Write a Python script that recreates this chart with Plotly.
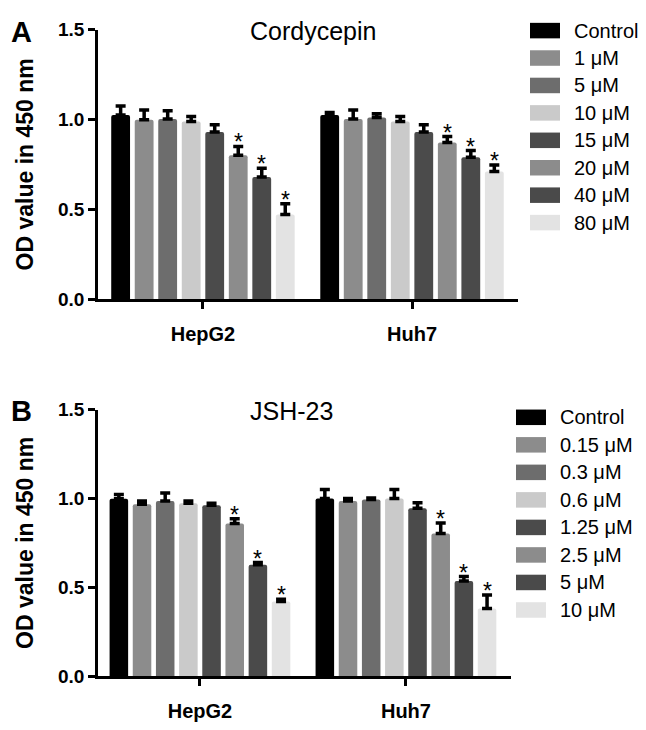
import plotly.graph_objects as go

# The page body has an 8px margin; the figure is sized/shifted to compensate.
OFF = 8
W, H = 646 - 2 * OFF, 730 - 2 * OFF

cells = ["HepG2", "Huh7"]

# Panel A: Cordycepin
doses_A = ["Control", "1 μM", "5 μM", "10 μM", "15 μM", "20 μM", "40 μM", "80 μM"]
hepg2_A = [1.025, 0.998, 1.002, 0.989, 0.930, 0.800, 0.680, 0.471]
hepg2_A_err = [0.050, 0.055, 0.047, 0.027, 0.040, 0.050, 0.048, 0.060]
huh7_A = [1.025, 1.002, 1.011, 0.989, 0.930, 0.872, 0.790, 0.710]
huh7_A_err = [0.013, 0.050, 0.020, 0.027, 0.040, 0.033, 0.037, 0.036]
sig_hepg2_A = [False, False, False, False, False, True, True, True]
sig_huh7_A = [False, False, False, False, False, True, True, True]

# Panel B: JSH-23
doses_B = ["Control", "0.15 μM", "0.3 μM", "0.6 μM", "1.25 μM", "2.5 μM", "5 μM", "10 μM"]
hepg2_B = [0.998, 0.967, 0.985, 0.973, 0.962, 0.858, 0.626, 0.420]
hepg2_B_err = [0.024, 0.018, 0.045, 0.012, 0.010, 0.027, 0.013, 0.012]
huh7_B = [1.000, 0.985, 0.994, 1.000, 0.945, 0.803, 0.535, 0.380]
huh7_B_err = [0.050, 0.015, 0.008, 0.050, 0.031, 0.058, 0.025, 0.076]
sig_hepg2_B = [False, False, False, False, False, True, True, True]
sig_huh7_B = [False, False, False, False, False, True, True, True]

colors = ["#000000", "#8c8c8c", "#6d6d6d", "#cacaca", "#4b4b4b", "#8c8c8c", "#4a4a4a", "#e3e3e3"]

y_ticks = [0.0, 0.5, 1.0, 1.5]

FONT = "Liberation Sans, Arial, Helvetica, sans-serif"
BARGAP = 0.1
N = len(colors)


def px_x(x):
    return (x - OFF) / W


def px_y(y):
    return 1 - (y - OFF) / H


fig = go.Figure()

panels = [
    dict(doses=doses_A, vals=(hepg2_A, huh7_A), errs=(hepg2_A_err, huh7_A_err),
         sigs=(sig_hepg2_A, sig_huh7_A), xa="x", ya="y"),
    dict(doses=doses_B, vals=(hepg2_B, huh7_B), errs=(hepg2_B_err, huh7_B_err),
         sigs=(sig_hepg2_B, sig_huh7_B), xa="x2", ya="y2"),
]

annotations = []
for p in panels:
    for j, dose in enumerate(p["doses"]):
        yv = [p["vals"][0][j], p["vals"][1][j]]
        ev = [p["errs"][0][j], p["errs"][1][j]]
        fig.add_trace(go.Bar(
            x=cells, y=yv, name=dose, xaxis=p["xa"], yaxis=p["ya"],
            marker=dict(color=colors[j], line=dict(width=0), cornerradius=2),
            error_y=dict(type="data", symmetric=False, array=ev, arrayminus=[0, 0],
                         color="black", thickness=3.5, width=5),
            showlegend=False,
        ))
        for i in range(2):
            if p["sigs"][i][j]:
                xc = i - (1 - BARGAP) / 2 + (j + 0.5) * (1 - BARGAP) / N
                annotations.append(dict(
                    x=xc, y=yv[i] + ev[i], xref=p["xa"], yref=p["ya"],
                    text="*", showarrow=False, yanchor="bottom", yshift=-11,
                    font=dict(size=23, color="black", family=FONT)))

# Legends (boxes + labels)
legend_specs = [
    (doses_A, 530, 560, 572, 21, 28.3),
    (doses_B, 516, 546, 558, 420, 28.4),
]
shapes = []
for doses, bx0, bx1, tx, y0, dy in legend_specs:
    for k, dose in enumerate(doses):
        yc = y0 + k * dy
        shapes.append(dict(type="rect", xref="paper", yref="paper",
                           x0=px_x(bx0), x1=px_x(bx1), y0=px_y(yc + 8), y1=px_y(yc - 8),
                           fillcolor=colors[k], line=dict(width=0)))
        annotations.append(dict(x=px_x(tx), y=px_y(yc), xref="paper", yref="paper",
                                text=dose, showarrow=False, xanchor="left", yanchor="middle",
                                font=dict(size=20, color="black", family=FONT)))

# Panel titles and letters
annotations += [
    dict(x=px_x(248), y=px_y(21), xref="paper", yref="paper", text="Cordycepin",
         showarrow=False, xanchor="left", yanchor="middle",
         font=dict(size=25, color="black", family=FONT)),
    dict(x=px_x(248), y=px_y(413), xref="paper", yref="paper", text="JSH-23",
         showarrow=False, xanchor="left", yanchor="middle",
         font=dict(size=25, color="black", family=FONT)),
    dict(x=px_x(9), y=px_y(22), xref="paper", yref="paper", text="<b>A</b>",
         showarrow=False, xanchor="left", yanchor="middle",
         font=dict(size=29, color="black", family=FONT)),
    dict(x=px_x(9), y=px_y(413), xref="paper", yref="paper", text="<b>B</b>",
         showarrow=False, xanchor="left", yanchor="middle",
         font=dict(size=29, color="black", family=FONT)),
]

axis_common = dict(showline=True, linecolor="black", linewidth=2.5, ticks="outside",
                   tickcolor="black", tickwidth=2.5, ticklen=7, showgrid=False,
                   zeroline=False,
                   tickfont=dict(size=19, color="black", family=FONT, weight="bold"))

yaxis_common = dict(axis_common, range=[0, 1.5], tickvals=y_ticks, tickformat=".1f",
                    title=dict(text="OD value in 450 nm", standoff=18,
                               font=dict(size=23, color="black", family=FONT, weight="bold")))

xaxis_common = dict(axis_common, ticklabelstandoff=8,
                    tickfont=dict(size=20, color="black", family=FONT, weight="bold"))

fig.update_layout(
    width=W, height=H, margin=dict(l=0, r=0, t=0, b=0),
    paper_bgcolor="white", plot_bgcolor="white",
    barmode="group", bargap=BARGAP, bargroupgap=0.2,
    font=dict(family=FONT, color="black"),
    xaxis=dict(xaxis_common, domain=[px_x(98), px_x(518)], range=[-0.502, 1.507], anchor="y"),
    yaxis=dict(yaxis_common, domain=[px_y(298), px_y(20)], anchor="x"),
    xaxis2=dict(xaxis_common, domain=[px_x(98), px_x(511)], range=[-0.495, 1.51], anchor="y2"),
    yaxis2=dict(yaxis_common, domain=[px_y(687), px_y(412)], anchor="x2"),
    shapes=shapes,
    annotations=annotations,
)

fig.write_html("out.html")
